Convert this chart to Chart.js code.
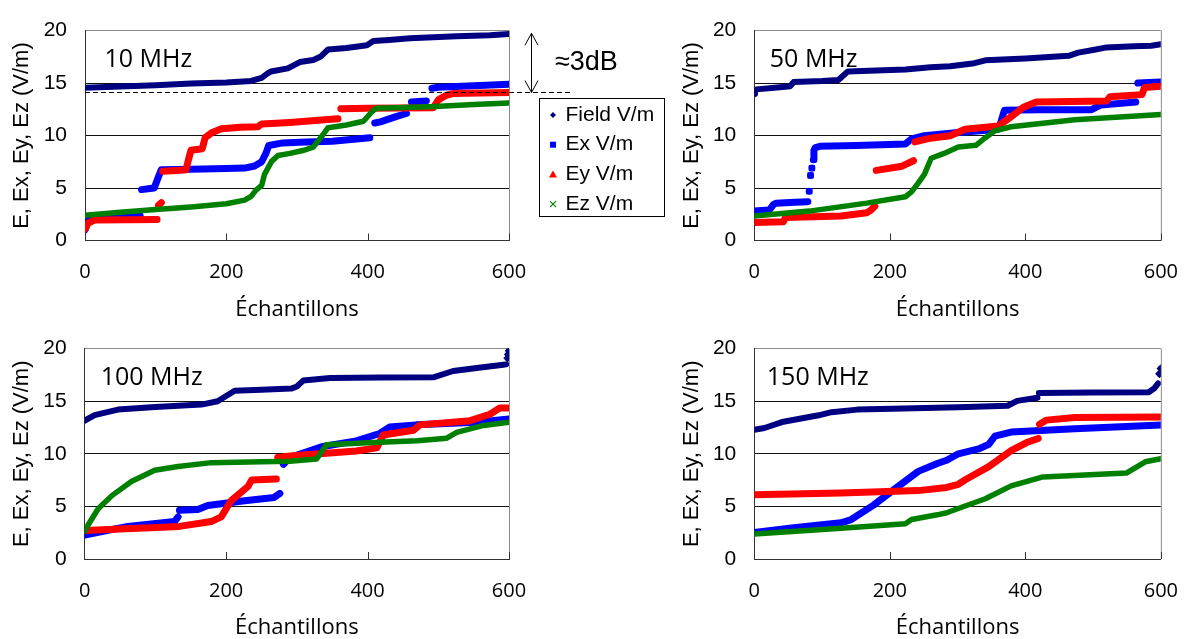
<!DOCTYPE html>
<html>
<head>
<meta charset="utf-8">
<script src="https://cdn.jsdelivr.net/npm/chart.js@4.4.0/dist/chart.umd.min.js"></script>
<style>
  html, body { margin: 0; padding: 0; background: #fff; overflow: hidden; width: 1198px; height: 639px; }
  .panneau { position: absolute; }
</style>
</head>
<body>
<div class="panneau" style="left:0;top:0"><canvas id="grafico1" width="670" height="330"></canvas></div>
<div class="panneau" style="left:670px;top:0"><canvas id="grafico2" width="528" height="330"></canvas></div>
<div class="panneau" style="left:0;top:318px"><canvas id="grafico3" width="670" height="330"></canvas></div>
<div class="panneau" style="left:670px;top:318px"><canvas id="grafico4" width="528" height="330"></canvas></div>
<script>
// noms des series et axes
const nomsSeries = ['Field V/m', 'Ex V/m', 'Ey V/m', 'Ez V/m'];
const titresPanneaux = ['10 MHz', '50 MHz', '100 MHz', '150 MHz'];
const ticksX = [0, 200, 400, 600];
const ticksY = [0, 5, 10, 15, 20];

// ---- 10 MHz ----
const x10Field = [0, 40, 100, 150, 200, 235, 250, 258, 263, 287, 304, 323, 333, 344, 370, 399, 408, 430, 460, 526, 573, 600];
const y10Field = [14.55, 14.65, 14.8, 14.95, 15.05, 15.2, 15.5, 15.9, 16.1, 16.4, 17.0, 17.2, 17.5, 18.2, 18.35, 18.6, 19.0, 19.1, 19.28, 19.47, 19.55, 19.68];
const x10Ex = [0, 4, 9, 40, 78, 79, 80, 92, 98, 103, 108, 150, 200, 226, 240, 250, 256, 260, 280, 304, 350, 403, 406, 410, 418, 440, 455, 458, 462, 483, 486, 491, 500, 550, 600];
const y10Ex = [1.0, 1.8, 2.2, 2.3, 2.35, null, 4.85, 4.95, 5.0, 5.9, 6.75, 6.8, 6.85, 6.9, 7.1, 7.5, 8.3, 9.05, 9.3, 9.35, 9.45, 9.8, null, 11.2, 11.3, 11.8, 12.1, null, 13.2, 13.3, null, 14.5, 14.6, 14.75, 14.9];
const x10Ey = [0, 5, 14, 60, 102, 103, 104, 108, 109, 110, 130, 143, 146, 150, 166, 170, 180, 193, 220, 245, 250, 290, 330, 358, 359, 362, 400, 450, 493, 500, 510, 520, 560, 600];
const y10Ey = [1.1, 1.7, 1.95, 1.97, 2.0, null, 3.35, 3.6, null, 6.6, 6.68, 6.75, 7.6, 8.6, 8.75, 9.8, 10.3, 10.65, 10.8, 10.85, 11.1, 11.25, 11.45, 11.6, null, 12.55, 12.6, 12.63, 12.66, 13.4, 13.8, 14.0, 14.05, 14.1];
const x10Ez = [0, 50, 100, 150, 200, 226, 235, 242, 250, 254, 264, 273, 290, 310, 323, 337, 344, 370, 394, 406, 412, 450, 488, 550, 600];
const y10Ez = [2.4, 2.7, 2.95, 3.2, 3.5, 3.85, 4.2, 4.8, 5.25, 6.3, 7.54, 8.1, 8.3, 8.6, 8.9, 10.1, 10.75, 11.0, 11.36, 12.27, 12.6, 12.68, 12.75, 12.95, 13.1];

// ---- 50 MHz ----
const x50Field = [0, 1, 3, 30, 53, 58, 100, 124, 138, 180, 223, 260, 289, 322, 341, 400, 464, 478, 500, 520, 560, 586, 600];
const y50Field = [13.96, 14.3, 14.4, 14.55, 14.7, 15.1, 15.2, 15.3, 16.1, 16.2, 16.3, 16.5, 16.6, 16.86, 17.17, 17.35, 17.6, 17.9, 18.15, 18.4, 18.5, 18.55, 18.7];
const x50Ex = [0, 22, 28, 32, 60, 79, 80, 81, 82, 83, 84, 85, 86, 87, 88, 90, 97, 150, 223, 232, 251, 301, 360, 364, 369, 420, 497, 511, 563, 564, 566, 600];
const y50Ex = [2.8, 2.9, 3.4, 3.56, 3.65, 3.7, null, 4.7, null, 6.2, null, 6.9, null, 7.7, 8.6, 8.85, 8.97, 9.05, 9.2, 9.68, 9.98, 10.3, 10.6, 11.3, 12.4, 12.45, 12.45, 12.9, 13.2, null, 15.0, 15.1];
const x50Ey = [0, 43, 46, 128, 166, 172, 178, 179, 180, 218, 235, 236, 237, 260, 289, 311, 360, 379, 397, 416, 520, 525, 572, 576, 600];
const y50Ey = [1.72, 1.78, 2.2, 2.34, 2.64, 2.9, 3.26, null, 6.68, 7.08, 7.6, null, 9.4, 9.75, 9.98, 10.6, 10.9, 11.8, 12.7, 13.2, 13.3, 13.7, 13.9, 14.57, 14.7];
const x50Ez = [0, 81, 166, 223, 232, 241, 251, 261, 280, 301, 327, 341, 355, 379, 473, 600];
const y50Ez = [2.34, 2.8, 3.56, 4.17, 4.63, 5.4, 6.3, 7.84, 8.3, 8.9, 9.07, 9.8, 10.45, 10.84, 11.5, 12.0];

// ---- 100 MHz ----
const x100Field = [0, 14, 47, 100, 165, 188, 212, 250, 292, 300, 309, 347, 420, 493, 521, 560, 592, 596, 597, 598, 598.5, 599, 599.5, 600];
const y100Field = [13.15, 13.67, 14.2, 14.45, 14.68, 15.0, 16.0, 16.1, 16.2, 16.4, 16.96, 17.2, 17.25, 17.27, 17.87, 18.2, 18.47, 18.5, null, 19.1, null, 19.45, null, 19.8];
const x100Ex = [0, 61, 127, 132, 133, 134, 160, 174, 226, 268, 276, 277, 281, 290, 337, 384, 417, 431, 469, 554, 600];
const y100Ex = [2.28, 3.1, 3.56, 4.0, null, 4.63, 4.7, 5.08, 5.54, 5.85, 6.24, null, 9.0, 9.65, 10.7, 11.23, 11.93, 12.54, 12.75, 13.0, 13.3];
const x100Ey = [0, 134, 179, 193, 207, 231, 236, 271, 272, 273, 290, 384, 413, 422, 465, 474, 545, 573, 587, 600];
const y100Ey = [2.71, 3.1, 3.56, 4.0, 5.54, 6.9, 7.5, 7.6, null, 9.65, 9.8, 10.26, 10.56, 11.78, 12.24, 12.75, 13.15, 13.76, 14.36, 14.36];
const x100Ez = [0, 5, 19, 38, 66, 99, 132, 179, 250, 290, 328, 342, 400, 470, 512, 526, 564, 600];
const y100Ez = [2.65, 3.26, 4.78, 6.0, 7.37, 8.43, 8.8, 9.16, 9.25, 9.3, 9.5, 10.87, 11.05, 11.25, 11.48, 12.03, 12.7, 13.0];

// ---- 150 MHz ----
const x150Field = [0, 15, 43, 95, 114, 152, 220, 301, 374, 388, 418, 419, 420, 500, 582, 590, 596, 597, 598, 599, 600];
const y150Field = [12.29, 12.45, 13.05, 13.66, 13.96, 14.2, 14.3, 14.42, 14.57, 15.03, 15.33, null, 15.79, 15.82, 15.85, 16.2, 16.7, null, 17.6, null, 18.1];
const x150Ex = [0, 58, 128, 143, 176, 204, 242, 270, 284, 301, 331, 346, 355, 379, 473, 600];
const y150Ex = [2.53, 2.98, 3.44, 3.75, 5.12, 6.5, 8.33, 9.08, 9.39, 10.0, 10.46, 10.9, 11.67, 12.07, 12.38, 12.74];
const x150Ey = [0, 128, 242, 284, 301, 312, 346, 379, 402, 419, 420, 421, 431, 473, 600];
const y150Ey = [6.1, 6.28, 6.5, 6.8, 7.1, 7.56, 8.78, 10.3, 11.07, 11.46, null, 12.8, 13.2, 13.45, 13.5];
const x150Ez = [0, 128, 223, 232, 270, 284, 301, 341, 379, 426, 549, 577, 600];
const y150Ez = [2.38, 2.93, 3.35, 3.75, 4.2, 4.4, 4.8, 5.73, 6.95, 7.8, 8.17, 9.24, 9.54];

// styles des series (couleur, marqueur, epaisseur)
const couleurs = ['#000080', '#0000ff', '#ff0000', '#008000'];
const marqueurs = ['rectRot', 'rect', 'triangle', 'crossRot'];
const epaisseurs = [6, 7, 7, 5.5];

// point visible seulement s'il est isolé (entouré de trous)
function pointIsole(ctx) {
  var d = ctx.dataset.data;
  var i = ctx.dataIndex;
  var avant = d[i - 1], apres = d[i + 1];
  var seul = (!avant || avant.y === null) && (!apres || apres.y === null);
  return seul ? 3.3 : 0;
}

function serie(n, xs, ys) {
  return {
    label: nomsSeries[n],
    data: xs.map(function (x, i) { return { x: x, y: ys[i] }; }),
    showLine: true,
    spanGaps: false,
    borderColor: couleurs[n],
    backgroundColor: couleurs[n],
    borderWidth: epaisseurs[n],
    borderCapStyle: 'round',
    borderJoinStyle: 'round',
    pointStyle: marqueurs[n],
    pointRadius: pointIsole,
    pointBorderWidth: 1.5,
    order: 4 - n
  };
}

// cadre droit, petits traits de graduation vers l'intérieur, étiquette de fréquence
const cadre = {
  id: 'cadre',
  afterDraw: function (chart, args, opts) {
    var ctx = chart.ctx;
    var a = chart.chartArea;
    var sx = chart.scales.x;
    ctx.save();
    ctx.strokeStyle = '#8c8c8c';
    ctx.lineWidth = 1;
    ctx.beginPath();
    ctx.moveTo(a.right + 0.5, a.top);
    ctx.lineTo(a.right + 0.5, a.bottom);
    ctx.stroke();
    ctx.strokeStyle = '#333';
    ticksX.forEach(function (v) {
      if (v === 0) return;
      var px = Math.round(sx.getPixelForValue(v)) + 0.5;
      ctx.beginPath();
      ctx.moveTo(px, a.bottom);
      ctx.lineTo(px, a.bottom - 7);
      ctx.stroke();
    });
    ctx.fillStyle = '#000';
    ctx.font = '25px "Open Sans"';
    ctx.textBaseline = 'alphabetic';
    ctx.fillText(opts.texte, a.left + opts.dx, a.top + opts.dy);
    ctx.restore();
  }
};

// flèche ≈3dB, ligne pointillée et légende (premier graphique)
const annotation = {
  id: 'annotation',
  afterDraw: function (chart) {
    var ctx = chart.ctx;
    var a = chart.chartArea;
    var sy = chart.scales.y;
    var yRef = sy.getPixelForValue(14.1);
    var yHaut = sy.getPixelForValue(19.75);
    var xFleche = a.right + 22.5;
    ctx.save();
    ctx.strokeStyle = '#000';
    ctx.lineWidth = 1.2;
    ctx.setLineDash([5, 3]);
    ctx.beginPath();
    ctx.moveTo(a.left, yRef);
    ctx.lineTo(a.right + 64, yRef);
    ctx.stroke();
    ctx.setLineDash([]);
    ctx.lineWidth = 1;
    ctx.beginPath();
    ctx.moveTo(xFleche, yHaut);
    ctx.lineTo(xFleche, yRef);
    ctx.moveTo(xFleche - 6.5, yHaut + 12);
    ctx.lineTo(xFleche, yHaut);
    ctx.lineTo(xFleche + 6.5, yHaut + 12);
    ctx.moveTo(xFleche - 6.5, yRef - 12);
    ctx.lineTo(xFleche, yRef);
    ctx.lineTo(xFleche + 6.5, yRef - 12);
    ctx.stroke();
    ctx.fillStyle = '#000';
    ctx.font = '27px "Liberation Sans"';
    ctx.fillText('≈3dB', a.right + 46, a.top + 39.5);

    // légende
    var lx = a.right + 30.5, ly = 98.5;
    ctx.fillStyle = '#fff';
    ctx.fillRect(lx, ly, 125, 118);
    ctx.strokeStyle = '#000';
    ctx.strokeRect(lx, ly, 125, 118);
    ctx.font = '21px "Liberation Sans"';
    ctx.textBaseline = 'middle';
    chart.data.datasets.forEach(function (ds, i) {
      var cy = 115 + i * 29.7;
      var mx = lx + 13.5;
      ctx.fillStyle = ds.borderColor;
      ctx.strokeStyle = ds.borderColor;
      ctx.beginPath();
      if (ds.pointStyle === 'rectRot') {
        ctx.moveTo(mx, cy - 3); ctx.lineTo(mx + 3, cy); ctx.lineTo(mx, cy + 3); ctx.lineTo(mx - 3, cy);
        ctx.closePath(); ctx.fill();
      } else if (ds.pointStyle === 'rect') {
        ctx.fillRect(mx - 3, cy - 3, 6, 6);
      } else if (ds.pointStyle === 'triangle') {
        ctx.moveTo(mx, cy - 4); ctx.lineTo(mx + 4, cy + 3); ctx.lineTo(mx - 4, cy + 3);
        ctx.closePath(); ctx.fill();
      } else {
        ctx.lineWidth = 1.2;
        ctx.moveTo(mx - 3, cy - 3); ctx.lineTo(mx + 3, cy + 3);
        ctx.moveTo(mx + 3, cy - 3); ctx.lineTo(mx - 3, cy + 3);
        ctx.stroke();
      }
      ctx.fillStyle = '#000';
      ctx.fillText(ds.label, lx + 26, cy);
    });
    ctx.restore();
  }
};

function couleurGrille(ctx) {
  if (ctx.tick.value === 20) return '#8c8c8c';
  if (ctx.tick.value === 0) return 'rgba(0,0,0,0)';
  return '#111';
}

function optionsGraphique(largeurY, hauteurX, droite, titre) {
  return {
    responsive: false,
    animation: false,
    events: [],
    layout: { padding: { left: 0, top: 22, right: droite, bottom: 0 } },
    plugins: {
      legend: { display: false },
      tooltip: { enabled: false },
      cadre: titre
    },
    scales: {
      x: {
        type: 'linear',
        min: 0, max: 600,
        afterBuildTicks: function (s) { s.ticks = ticksX.map(function (v) { return { value: v }; }); },
        ticks: { padding: 20, color: '#000', font: { family: 'Open Sans', size: 20 } },
        grid: { display: false, drawTicks: false },
        border: { color: '#333', width: 1 },
        title: { display: true, text: 'Échantillons', color: '#000', font: { family: 'Open Sans', size: 22 }, padding: { top: 0, bottom: 7 } },
        afterFit: function (s) { s.height = hauteurX; }
      },
      y: {
        type: 'linear',
        min: 0, max: 20,
        afterBuildTicks: function (s) { s.ticks = ticksY.map(function (v) { return { value: v }; }); },
        ticks: { padding: 18, color: '#000', font: { family: 'Liberation Sans', size: 21 } },
        grid: { drawTicks: false, color: couleurGrille, lineWidth: 1 },
        border: { color: '#333', width: 1 },
        title: { display: true, text: 'E, Ex, Ey, Ez (V/m)', color: '#000', font: { family: 'Liberation Sans', size: 22 }, padding: { top: 9, bottom: 0 } },
        afterFit: function (s) { s.width = largeurY; }
      }
    }
  };
}

new Chart(document.getElementById('grafico1'), {
  type: 'scatter',
  data: { datasets: [serie(0, x10Field, y10Field), serie(1, x10Ex, y10Ex), serie(2, x10Ey, y10Ey), serie(3, x10Ez, y10Ez)] },
  options: optionsGraphique(85, 89.5, 161, { texte: titresPanneaux[0], dx: 19.5, dy: 36.5 }),
  plugins: [cadre, annotation]
});

new Chart(document.getElementById('grafico2'), {
  type: 'scatter',
  data: { datasets: [serie(0, x50Field, y50Field), serie(1, x50Ex, y50Ex), serie(2, x50Ey, y50Ey), serie(3, x50Ez, y50Ez)] },
  options: optionsGraphique(84.3, 89.5, 20, { texte: titresPanneaux[1], dx: 15.5, dy: 36.5 }),
  plugins: [cadre]
});

new Chart(document.getElementById('grafico3'), {
  type: 'scatter',
  data: { datasets: [serie(0, x100Field, y100Field), serie(1, x100Ex, y100Ex), serie(2, x100Ey, y100Ey), serie(3, x100Ez, y100Ez)] },
  options: optionsGraphique(84.7, 89, 161, { texte: titresPanneaux[2], dx: 16, dy: 36 }),
  plugins: [cadre]
});

new Chart(document.getElementById('grafico4'), {
  type: 'scatter',
  data: { datasets: [serie(0, x150Field, y150Field), serie(1, x150Ex, y150Ex), serie(2, x150Ey, y150Ey), serie(3, x150Ez, y150Ez)] },
  options: optionsGraphique(84.3, 89, 20, { texte: titresPanneaux[3], dx: 12.5, dy: 36 }),
  plugins: [cadre]
});
</script>
</body>
</html>
